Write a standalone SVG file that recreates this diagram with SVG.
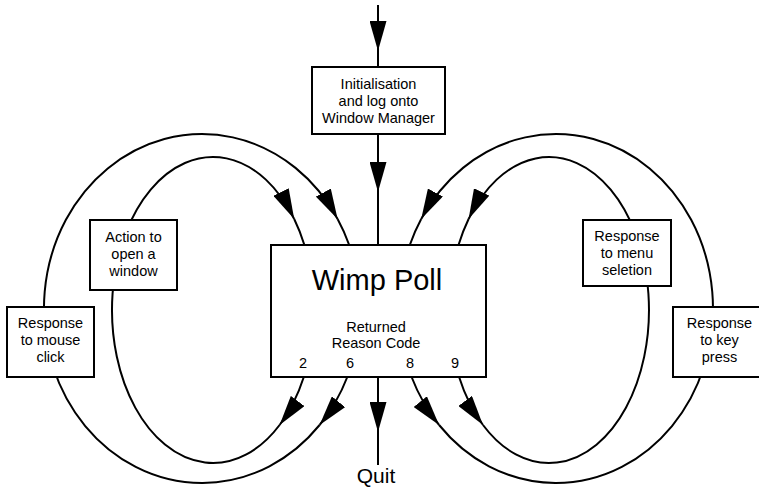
<svg xmlns="http://www.w3.org/2000/svg" width="759" height="489" viewBox="0 0 759 489">
<style>
.ln{fill:none;stroke:#000;stroke-width:2}
.bx{fill:#fff;stroke:#000;stroke-width:2}
.t{font-family:"Liberation Sans",Arial,Helvetica,sans-serif;font-size:14.5px;text-anchor:middle;fill:#000}
.big{font-size:29px}
.q{font-size:21px}
</style>
<defs>
<marker id="ah" markerUnits="userSpaceOnUse" markerWidth="30" markerHeight="17" viewBox="0 0 30 17" refX="30" refY="8.5" orient="auto">
<path d="M0,0 L30,8.5 L0,17 z" fill="#000"/>
</marker>
</defs>
<rect width="759" height="489" fill="#fff"/>
<g id="connectors">
<path class="ln" d="M378,5 L378,51" marker-end="url(#ah)"/>
<path class="ln" d="M378,51 L378,67"/>
<path class="ln" d="M378,134 L378,192" marker-end="url(#ah)"/>
<path class="ln" d="M378,192 L378,245"/>
<path class="ln" d="M378,377 L378,432" marker-end="url(#ah)"/>
<path class="ln" d="M378,432 L378,465"/>
<!-- left inner loop -->
<path class="ln" d="M303.8,377 A101,153 0 0,1 279.6,425" marker-end="url(#ah)"/>
<path class="ln" d="M279.6,425 A101,153 0 1,1 294.2,219" marker-end="url(#ah)"/>
<path class="ln" d="M294.2,219 A101,153 0 0,1 304.4,245"/>
<!-- left outer loop -->
<path class="ln" d="M347.3,377 A158,174.5 0 0,1 319.6,425" marker-end="url(#ah)"/>
<path class="ln" d="M319.6,425 A158,174.5 0 1,1 337.6,219" marker-end="url(#ah)"/>
<path class="ln" d="M337.6,219 A158,174.5 0 0,1 349.2,245"/>
<!-- right inner loop -->
<path class="ln" d="M459.1,377 A100,153 0 0,0 483,425" marker-end="url(#ah)"/>
<path class="ln" d="M483,425 A100,153 0 1,0 468.6,219" marker-end="url(#ah)"/>
<path class="ln" d="M468.6,219 A100,153 0 0,0 458.5,245"/>
<!-- right outer loop -->
<path class="ln" d="M411.6,377 A157,174.5 0 0,0 439.1,425" marker-end="url(#ah)"/>
<path class="ln" d="M439.1,425 A157,174.5 0 1,0 421.2,219" marker-end="url(#ah)"/>
<path class="ln" d="M421.2,219 A157,174.5 0 0,0 409.8,245"/>
</g>
<g id="init">
<rect class="bx" x="312" y="67" width="133" height="67"/>
<text class="t" x="378.5" y="89">Initialisation</text>
<text class="t" x="378.5" y="106">and log onto</text>
<text class="t" x="378.5" y="123">Window Manager</text>
</g>
<g id="wimppoll">
<rect class="bx" x="271" y="245" width="215" height="132"/>
<text class="t big" x="377" y="290">Wimp Poll</text>
<text class="t" x="376" y="332">Returned</text>
<text class="t" x="376" y="348">Reason Code</text>
<text class="t" x="303" y="368">2</text>
<text class="t" x="350" y="368">6</text>
<text class="t" x="410" y="368">8</text>
<text class="t" x="455" y="368">9</text>
</g>
<g id="action">
<rect class="bx" x="90" y="220" width="87" height="70"/>
<text class="t" x="133.5" y="242">Action to</text>
<text class="t" x="133.5" y="259">open a</text>
<text class="t" x="133.5" y="276">window</text>
</g>
<g id="mouse">
<rect class="bx" x="7" y="307" width="87" height="70"/>
<text class="t" x="50.5" y="328">Response</text>
<text class="t" x="50.5" y="345">to mouse</text>
<text class="t" x="50.5" y="362">click</text>
</g>
<g id="menu">
<rect class="bx" x="583" y="220" width="88" height="66"/>
<text class="t" x="627" y="241">Response</text>
<text class="t" x="627" y="258">to menu</text>
<text class="t" x="627" y="275">seletion</text>
</g>
<g id="key">
<rect class="bx" x="673" y="307" width="93" height="70"/>
<text class="t" x="719.5" y="328">Response</text>
<text class="t" x="719.5" y="345">to key</text>
<text class="t" x="719.5" y="362">press</text>
</g>
<g id="quit">
<text class="t q" x="376" y="483">Quit</text>
</g>
</svg>
